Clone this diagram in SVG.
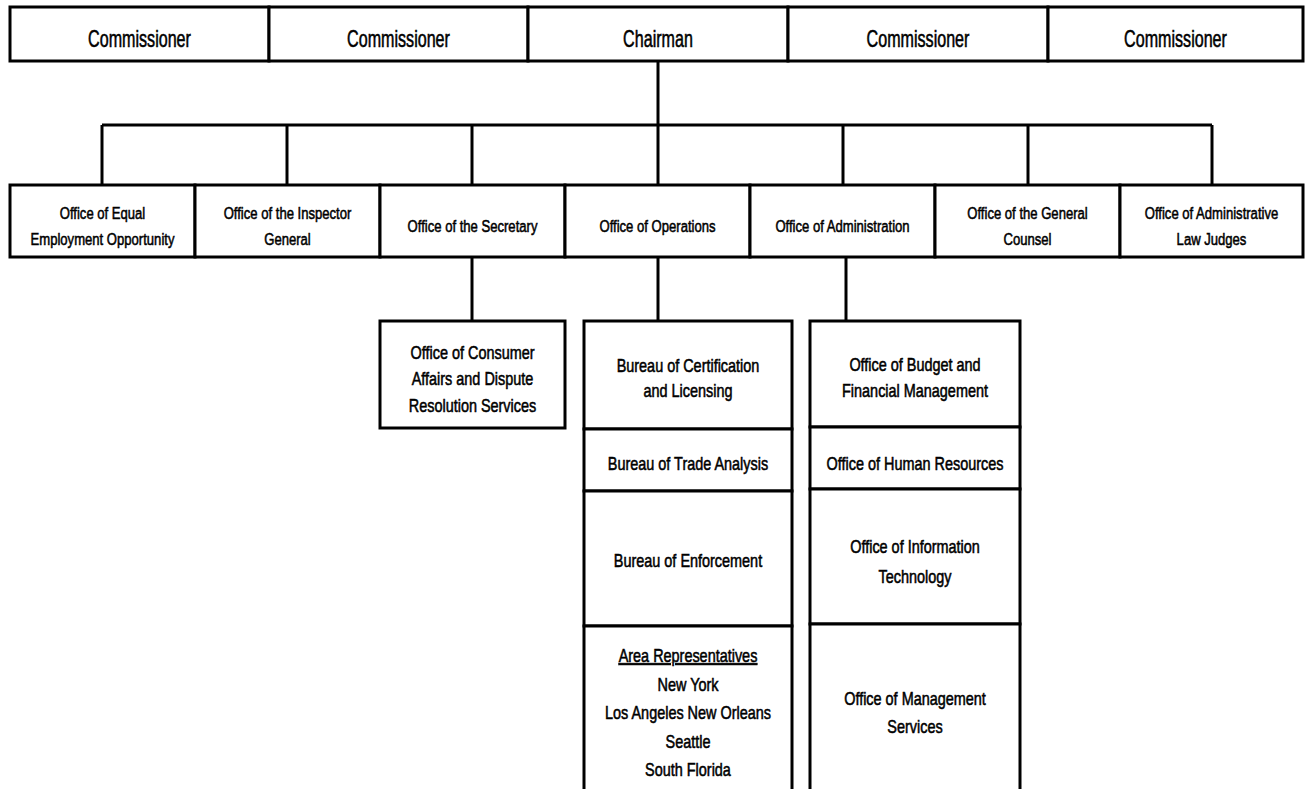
<svg xmlns="http://www.w3.org/2000/svg" width="1306" height="789" viewBox="0 0 1306 789">
<style>
rect{fill:#fff;stroke:#000;stroke-width:3}
.c line,.c path{stroke:#000;stroke-width:3;fill:none}
text{font-family:"Liberation Sans",Arial,sans-serif;fill:#000;text-anchor:middle;stroke:#000;stroke-width:0.55}
.t{font-size:23px}
.m{font-size:17px}
.b{font-size:18.5px}
</style>
<rect x="0" y="0" width="1306" height="789" style="stroke:none;fill:#fff"/>
<g id="connectors" class="c">
<line x1="658" y1="61" x2="658" y2="125"/>
<line x1="102" y1="125" x2="1212" y2="125"/>
<line x1="102" y1="125" x2="102" y2="185"/>
<line x1="287" y1="125" x2="287" y2="185"/>
<line x1="472" y1="125" x2="472" y2="185"/>
<line x1="658" y1="125" x2="658" y2="185"/>
<line x1="843" y1="125" x2="843" y2="185"/>
<line x1="1028" y1="125" x2="1028" y2="185"/>
<line x1="1212" y1="125" x2="1212" y2="185"/>
<line x1="472" y1="257" x2="472" y2="321"/>
<line x1="658" y1="257" x2="658" y2="321"/>
<line x1="846" y1="257" x2="846" y2="321"/>
</g>
<g id="commissioner1"><rect x="10" y="7" width="259" height="54"/><text class="t" transform="translate(139.5,0) scale(0.7,1)" y="47">Commissioner</text></g>
<g id="commissioner2"><rect x="269" y="7" width="259" height="54"/><text class="t" transform="translate(398.5,0) scale(0.7,1)" y="47">Commissioner</text></g>
<g id="chairman"><rect x="528" y="7" width="260" height="54"/><text class="t" transform="translate(658,0) scale(0.7,1)" y="47">Chairman</text></g>
<g id="commissioner3"><rect x="788" y="7" width="260" height="54"/><text class="t" transform="translate(918,0) scale(0.7,1)" y="47">Commissioner</text></g>
<g id="commissioner4"><rect x="1048" y="7" width="255" height="54"/><text class="t" transform="translate(1175.5,0) scale(0.7,1)" y="47">Commissioner</text></g>

<g id="eeo"><rect x="10" y="185" width="185" height="72"/><text class="m" transform="translate(102.5,0) scale(0.77,1)"><tspan x="0" y="219">Office of Equal</tspan><tspan x="0" y="245">Employment Opportunity</tspan></text></g>
<g id="oig"><rect x="195" y="185" width="185" height="72"/><text class="m" transform="translate(287.5,0) scale(0.77,1)"><tspan x="0" y="219">Office of the Inspector</tspan><tspan x="0" y="245">General</tspan></text></g>
<g id="secretary"><rect x="380" y="185" width="185" height="72"/><text class="m" transform="translate(472.5,0) scale(0.77,1)" x="0" y="232">Office of the Secretary</text></g>
<g id="operations"><rect x="565" y="185" width="185" height="72"/><text class="m" transform="translate(657.5,0) scale(0.77,1)" x="0" y="232">Office of Operations</text></g>
<g id="administration"><rect x="750" y="185" width="185" height="72"/><text class="m" transform="translate(842.5,0) scale(0.77,1)" x="0" y="232">Office of Administration</text></g>
<g id="counsel"><rect x="935" y="185" width="185" height="72"/><text class="m" transform="translate(1027.5,0) scale(0.77,1)"><tspan x="0" y="219">Office of the General</tspan><tspan x="0" y="245">Counsel</tspan></text></g>
<g id="alj"><rect x="1120" y="185" width="183" height="72"/><text class="m" transform="translate(1211.5,0) scale(0.77,1)"><tspan x="0" y="219">Office of Administrative</tspan><tspan x="0" y="245">Law Judges</tspan></text></g>

<g id="consumer"><rect x="380" y="321" width="185" height="107"/><text class="b" transform="translate(472.5,0) scale(0.78,1)"><tspan x="0" y="359">Office of Consumer</tspan><tspan x="0" y="385">Affairs and Dispute</tspan><tspan x="0" y="412">Resolution Services</tspan></text></g>

<g id="certification"><rect x="584" y="321" width="208" height="108"/><text class="b" transform="translate(688,0) scale(0.78,1)"><tspan x="0" y="372">Bureau of Certification</tspan><tspan x="0" y="397">and Licensing</tspan></text></g>
<g id="trade"><rect x="584" y="429" width="208" height="62"/><text class="b" transform="translate(688,0) scale(0.78,1)" x="0" y="470">Bureau of Trade Analysis</text></g>
<g id="enforcement"><rect x="584" y="491" width="208" height="135"/><text class="b" transform="translate(688,0) scale(0.78,1)" x="0" y="567">Bureau of Enforcement</text></g>
<g id="area"><rect x="584" y="626" width="208" height="180"/><text class="b" transform="translate(688,0) scale(0.78,1)"><tspan x="0" y="662" text-decoration="underline">Area Representatives</tspan><tspan x="0" y="691">New York</tspan><tspan x="0" y="719">Los Angeles New Orleans</tspan><tspan x="0" y="748">Seattle</tspan><tspan x="0" y="776">South Florida</tspan></text></g>

<g id="budget"><rect x="810" y="321" width="210" height="106"/><text class="b" transform="translate(915,0) scale(0.78,1)"><tspan x="0" y="371">Office of Budget and</tspan><tspan x="0" y="397">Financial Management</tspan></text></g>
<g id="hr"><rect x="810" y="427" width="210" height="62"/><text class="b" transform="translate(915,0) scale(0.78,1)" x="0" y="470">Office of Human Resources</text></g>
<g id="it"><rect x="810" y="489" width="210" height="135"/><text class="b" transform="translate(915,0) scale(0.78,1)"><tspan x="0" y="553">Office of Information</tspan><tspan x="0" y="583">Technology</tspan></text></g>
<g id="management"><rect x="810" y="624" width="210" height="182"/><text class="b" transform="translate(915,0) scale(0.78,1)"><tspan x="0" y="705">Office of Management</tspan><tspan x="0" y="733">Services</tspan></text></g>
</svg>
